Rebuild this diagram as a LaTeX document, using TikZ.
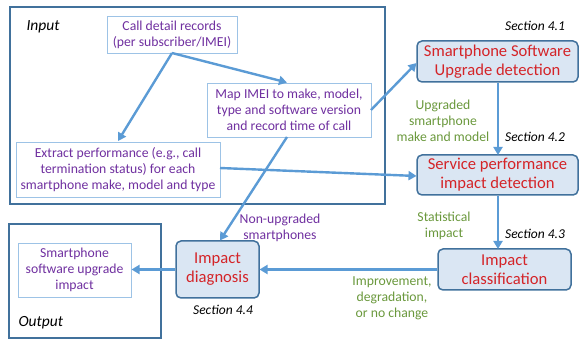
\documentclass[tikz,border=0pt]{standalone}
\usepackage{fontspec}
\setmainfont{Carlito}
\usetikzlibrary{arrows.meta}
\definecolor{purp}{HTML}{7030A0}
\definecolor{redt}{HTML}{D42428}
\definecolor{greent}{HTML}{6A983C}
\definecolor{arr}{HTML}{5B9BD5}
\definecolor{frame}{HTML}{41719C}
\definecolor{lightb}{HTML}{9DC3E6}
\definecolor{boxfill}{HTML}{DAE6F3}
\tikzset{
  group/.style={draw=frame, line width=1.6pt},
  databox/.style={draw=lightb, line width=0.8pt, fill=white, text=purp, align=center, inner sep=0pt,
    font=\fontsize{13.7}{16}\selectfont},
  procbox/.style={draw=frame, line width=1.5pt, fill=boxfill, rounded corners=5pt, text=redt, align=center,
    inner sep=0pt, font=\fontsize{16.6}{19}\selectfont},
  flow/.style={draw=arr, line width=2.4pt, -{Triangle[length=8pt,width=9pt]}},
  seclab/.style={font=\fontsize{13.5}{16}\selectfont\itshape, text=black},
  greenlab/.style={font=\fontsize{13.7}{16}\selectfont, text=greent, align=center},
  purplab/.style={font=\fontsize{13.7}{16}\selectfont, text=purp, align=center},
  grouplab/.style={font=\fontsize{15.5}{18}\selectfont\itshape, text=black, anchor=west},
}
\begin{document}
\begin{tikzpicture}[x=1pt,y=-1pt]
\useasboundingbox (0,0) rectangle (579,339);
% groups
\draw[group] (10,7) rectangle (385,204);
\draw[group] (9,224) rectangle (161,338);
\node[grouplab] (inlab) at (23,27) {Input};
\node[grouplab] (outlab) at (15,323) {Output};
% data boxes
\node[databox, minimum width=130pt, minimum height=37pt] (cdr) at (172,34.5) {Call detail records\\(per subscriber/IMEI)};
\node[databox, minimum width=164pt, minimum height=54pt] (map) at (289,110) {Map IMEI to make, model,\\type and software version\\and record time of call};
\node[databox, minimum width=204pt, minimum height=55pt] (ext) at (118,169.5) {Extract performance (e.g., call\\termination status) for each\\smartphone make, model and type};
\node[databox, minimum width=113pt, minimum height=54pt] (imp) at (74.5,270) {Smartphone\\software upgrade\\impact};
% process boxes
\node[procbox, minimum width=161pt, minimum height=41pt] (upg) at (497.5,61.5) {Smartphone Software\\Upgrade detection};
\node[procbox, minimum width=161pt, minimum height=40pt] (svc) at (497.5,175) {Service performance\\impact detection};
\node[procbox, minimum width=133pt, minimum height=41pt] (cls) at (504.5,269.5) {Impact\\classification};
\node[procbox, minimum width=83pt, minimum height=57pt] (diag) at (217.5,269.5) {Impact\\diagnosis};
% section labels
\node[seclab] (s1) at (535,26) {Section 4.1};
\node[seclab] (s2) at (535,137) {Section 4.2};
\node[seclab] (s3) at (535,234) {Section 4.3};
\node[seclab] (s4) at (223,310) {Section 4.4};
% edge labels
\node[greenlab] (l1) at (443,121) {Upgraded\\smartphone\\make and model};
\node[greenlab] (l2) at (444,226) {Statistical\\impact};
\node[greenlab] (l3) at (392,298) {Improvement,\\degradation,\\or no change};
\node[purplab] (l4) at (280,228) {Non-upgraded\\smartphones};
% connectors
\coordinate (split) at (172,53);
\draw[flow] (split) -- (118,141);
\draw[flow] (split) -- (287,82.5);
\draw[flow] (371,110) -- (416.5,63);
\draw[flow] (220,168) -- (416.5,176);
\draw[flow] (287,137) -- (220,240.5);
\draw[flow] (upg.south -| 498,0) -- (498,155);
\draw[flow] (svc.south -| 498,0) -- (498,249);
\draw[flow] (cls.west) -- (259.5,269.5);
\draw[flow] (diag.west) -- (131.5,269.5);
\end{tikzpicture}
\end{document}
